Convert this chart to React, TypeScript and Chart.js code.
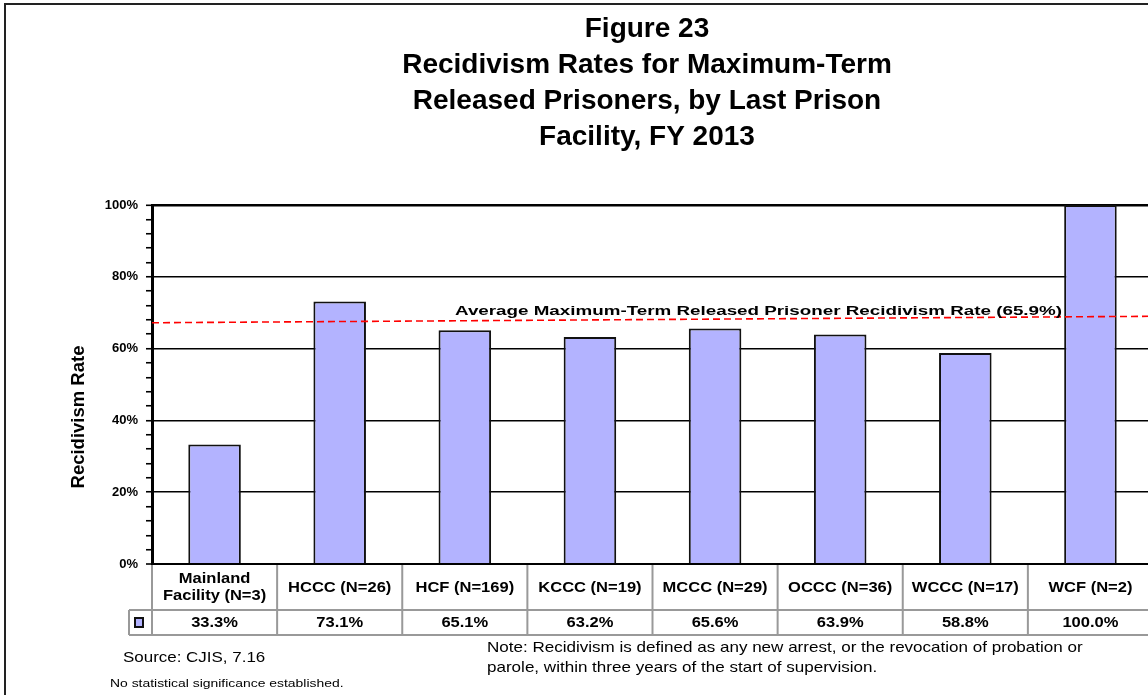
import React, { useEffect, useRef } from 'react';
import { Chart, registerables } from 'chart.js';

Chart.register(...registerables);

// ---------- data ----------
const titleLines = [
  'Figure 23',
  'Recidivism Rates for Maximum-Term',
  'Released Prisoners, by Last Prison',
  'Facility, FY 2013',
];
const categories: (string | string[])[] = [
  ['Mainland', 'Facility (N=3)'],
  'HCCC (N=26)',
  'HCF (N=169)',
  'KCCC (N=19)',
  'MCCC (N=29)',
  'OCCC (N=36)',
  'WCCC (N=17)',
  'WCF (N=2)',
];
const rates = [33.3, 73.1, 65.1, 63.2, 65.6, 63.9, 58.8, 100.0];
const yMin = 0;
const yMax = 100;
const yMajorStep = 20;
const yMinorStep = 4;
const avgRate = 65.9;
const avgLineStart = 67.2; // value where the dashed line meets the y axis
const avgLineEnd = 69.0; // value at the right edge of the plot
const avgLabel = `Average Maximum-Term Released Prisoner Recidivism Rate (${avgRate.toFixed(1)}%)`;
const yAxisTitle = 'Recidivism Rate';
const sourceNote = 'Source: CJIS, 7.16';
const significanceNote = 'No statistical significance established.';
const definitionNote = [
  'Note: Recidivism is defined as any new arrest, or the revocation of probation or',
  'parole, within three years of the start of supervision.',
];

// ---------- styles ----------
const FONT = '"Liberation Sans", Arial, Helvetica, sans-serif';
const BAR_FILL = '#B3B3FF';
const BAR_BORDER = '#111111';
const TABLE_LINE = '#999999';
const CANVAS_W = 1170;
const CANVAS_H = 695;

function drawText(
  ctx: CanvasRenderingContext2D,
  s: string,
  x: number,
  y: number,
  size: number,
  bold: boolean,
  align: 'left' | 'center' | 'right',
  sx = 1,
  color = '#000'
) {
  ctx.save();
  ctx.font = `${bold ? 'bold ' : ''}${size}px ${FONT}`;
  ctx.fillStyle = color;
  ctx.textBaseline = 'alphabetic';
  ctx.textAlign = 'left';
  const w = ctx.measureText(s).width * sx;
  const x0 = align === 'center' ? x - w / 2 : align === 'right' ? x - w : x;
  ctx.translate(x0, y);
  ctx.scale(sx, 1);
  ctx.fillText(s, 0, 0);
  ctx.restore();
}

const decorPlugin = {
  id: 'decor',
  afterDatasetsDraw(chart: any) {
    const { ctx, chartArea: area } = chart;
    const ys = chart.scales.y;
    // average line
    ctx.save();
    ctx.beginPath();
    ctx.setLineDash([7, 4]);
    ctx.strokeStyle = '#FF0000';
    ctx.lineWidth = 1.6;
    ctx.moveTo(area.left, ys.getPixelForValue(avgLineStart));
    ctx.lineTo(area.right, ys.getPixelForValue(avgLineEnd));
    ctx.stroke();
    ctx.restore();
    // average label
    ctx.save();
    ctx.font = `bold 13px ${FONT}`;
    const w = ctx.measureText(avgLabel).width;
    ctx.restore();
    drawText(ctx, avgLabel, 455, 315, 13, true, 'left', 607 / w);
  },
  afterDraw(chart: any) {
    const { ctx, chartArea: area } = chart;
    const xs = chart.scales.x;
    const n = categories.length;
    const colW = xs.getPixelForValue(1) - xs.getPixelForValue(0);

    // frame
    ctx.save();
    ctx.strokeStyle = '#222';
    ctx.lineWidth = 2;
    ctx.strokeRect(5, 4, 3000, 3000);
    ctx.restore();

    // title
    const titleBaselines = [37, 73, 109, 145];
    titleLines.forEach((t, i) => drawText(ctx, t, 647, titleBaselines[i], 28, true, 'center'));

    // y axis title
    ctx.save();
    ctx.translate(79, 417);
    ctx.rotate(-Math.PI / 2);
    ctx.font = `bold 18.5px ${FONT}`;
    ctx.fillStyle = '#000';
    ctx.textAlign = 'center';
    ctx.textBaseline = 'middle';
    ctx.fillText(yAxisTitle, 0, 0);
    ctx.restore();

    // data table
    const headTop = area.bottom;
    const headBottom = headTop + 46;
    const valBottom = headBottom + 25;
    const legendLeft = area.left - 23;
    ctx.save();
    ctx.strokeStyle = TABLE_LINE;
    ctx.lineWidth = 2;
    ctx.beginPath();
    ctx.moveTo(legendLeft, headBottom);
    ctx.lineTo(area.right + 20, headBottom);
    ctx.moveTo(legendLeft, valBottom);
    ctx.lineTo(area.right + 20, valBottom);
    ctx.moveTo(legendLeft, headBottom);
    ctx.lineTo(legendLeft, valBottom);
    for (let i = 0; i <= n; i++) {
      const bx = i === 0 ? area.left : xs.getPixelForValue(i - 1) + colW / 2;
      ctx.moveTo(bx, headTop + 1);
      ctx.lineTo(bx, valBottom);
    }
    ctx.stroke();
    ctx.restore();

    // legend key
    ctx.save();
    ctx.fillStyle = BAR_FILL;
    ctx.strokeStyle = BAR_BORDER;
    ctx.lineWidth = 2;
    ctx.fillRect(135, 618, 8, 9);
    ctx.strokeRect(135, 618, 8, 9);
    ctx.restore();

    categories.forEach((c, i) => {
      const cx = xs.getPixelForValue(i);
      if (Array.isArray(c)) {
        drawText(ctx, c[0], cx, headTop + 19, 14, true, 'center', 1.18);
        drawText(ctx, c[1], cx, headTop + 36, 14, true, 'center', 1.18);
      } else {
        drawText(ctx, c, cx, headTop + 28, 14, true, 'center', 1.18);
      }
      drawText(ctx, rates[i].toFixed(1) + '%', cx, headBottom + 17, 14, true, 'center', 1.18);
    });

    // notes
    drawText(ctx, sourceNote, 123, 662, 15, false, 'left', 1.13);
    drawText(ctx, significanceNote, 110, 687, 11.6, false, 'left', 1.2);
    drawText(ctx, definitionNote[0], 487, 652, 14.5, false, 'left', 1.175);
    drawText(ctx, definitionNote[1], 487, 672, 14.5, false, 'left', 1.175);
  },
};

export default function App() {
  const ref = useRef<HTMLCanvasElement | null>(null);
  useEffect(() => {
    if (!ref.current) return;
    const chart = new Chart(ref.current, {
      type: 'bar',
      data: {
        labels: categories as any,
        datasets: [
          {
            data: rates,
            backgroundColor: BAR_FILL,
            borderColor: BAR_BORDER,
            borderWidth: 2,
            barPercentage: 0.42,
            categoryPercentage: 1,
          },
        ],
      },
      options: {
        responsive: false,
        maintainAspectRatio: false,
        animation: false,
        devicePixelRatio: 1,
        layout: { padding: { left: 0, top: 205, right: CANVAS_W - 1153, bottom: CANVAS_H - 564 } },
        plugins: {
          legend: { display: false },
          title: { display: false },
          tooltip: { enabled: false },
        },
        scales: {
          x: {
            display: false,
            offset: true,
          },
          y: {
            min: yMin,
            max: yMax,
            afterFit: (scale: any) => {
              scale.width = 152;
              scale.paddingTop = 0;
              scale.paddingBottom = 0;
            },
            border: { display: true, color: '#000', width: 3 },
            grid: {
              color: (ctx: any) =>
                ctx.tick && ctx.tick.value % yMajorStep === 0 ? '#000' : 'rgba(0,0,0,0)',
              lineWidth: (ctx: any) =>
                ctx.tick && ctx.tick.value === yMax ? 2.6 : ctx.tick && ctx.tick.value === yMin ? 2 : 1.5,
              tickColor: '#000',
              tickWidth: 1.6,
              tickLength: 6,
              drawTicks: true,
            },
            ticks: {
              stepSize: yMinorStep,
              autoSkip: false,
              padding: 8,
              color: '#000',
              font: { family: FONT, size: 13, weight: 'bold' },
              callback: (v: any) => (Number(v) % yMajorStep === 0 ? `${v}%` : ''),
            },
          },
        },
      },
      plugins: [decorPlugin],
    });
    return () => chart.destroy();
  }, []);

  return (
    <div
      style={{
        position: 'fixed',
        left: 0,
        top: 0,
        width: 1148,
        height: 695,
        overflow: 'hidden',
        background: '#fff',
      }}
    >
      <canvas ref={ref} width={CANVAS_W} height={CANVAS_H} style={{ width: CANVAS_W, height: CANVAS_H, display: 'block' }} />
    </div>
  );
}
